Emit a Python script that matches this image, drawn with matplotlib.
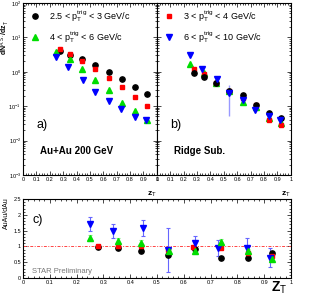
import numpy as np
import matplotlib
matplotlib.use('Agg')
import matplotlib.pyplot as plt
from matplotlib.ticker import MultipleLocator, LogLocator, NullFormatter

plt.rcParams['font.family'] = ['Liberation Sans', 'DejaVu Sans']
plt.rcParams['mathtext.fontset'] = 'custom'
plt.rcParams['mathtext.rm'] = 'Liberation Sans'
plt.rcParams['mathtext.it'] = 'Liberation Sans'
plt.rcParams['mathtext.bf'] = 'Liberation Sans:bold'

# panel a) Au+Au 200 GeV
a_black_x = [0.28, 0.354, 0.44, 0.537, 0.64, 0.74, 0.84, 0.93]
a_black_y = [4.0, 3.1, 2.35, 1.58, 0.99, 0.62, 0.36, 0.226]
a_red_x = [0.28, 0.354, 0.44, 0.537, 0.64, 0.74, 0.84, 0.93]
a_red_y = [4.6, 3.3, 2.0, 1.2, 0.66, 0.36, 0.186, 0.102]
a_green_x = [0.25, 0.354, 0.44, 0.537, 0.64, 0.74, 0.84, 0.93]
a_green_y = [3.77, 2.35, 1.2, 0.58, 0.295, 0.124, 0.072, 0.04]
a_blue_x = [0.25, 0.336, 0.447, 0.54, 0.64, 0.73, 0.836, 0.92]
a_blue_y = [2.69, 1.38, 0.58, 0.26, 0.14, 0.083, 0.049, 0.04]

# panel b) Ridge Sub.
b_black_y = [0.92, 0.71, 0.47, 0.28, 0.21, 0.108, 0.063, 0.046]
b_red_y = [1.2, 0.86, 0.47, 0.28, 0.17, 0.108, 0.04, 0.028]
b_green_y = [1.69, 0.92, 0.47, 0.28, 0.13, 0.095, 0.046, 0.033]
b_blue_y = [3.08, 1.2, 0.61, 0.24, 0.15, 0.077, 0.052, 0.04]
b_blue_lo = [0, 0, 0, 0.19, 0, 0, 0, 0]
b_blue_hi = [0, 0, 0, 0.17, 0, 0, 0, 0]

# panel c) AuAu/dAu
c_black_x = [0.28, 0.353, 0.44, 0.54, 0.64, 0.74, 0.84, 0.93]
c_black_y = [0.98, 0.95, 0.85, 0.72, 0.93, 0.65, 0.65, 0.78]
c_red_x = [0.28, 0.353, 0.44, 0.54, 0.635, 0.74, 0.84, 0.93]
c_red_y = [1.01, 1.0, 1.0, 0.88, 0.98, 0.95, 0.8, 0.7]
c_green_x = [0.25, 0.353, 0.44, 0.545, 0.64, 0.737, 0.84, 0.93]
c_green_y = [1.27, 1.17, 1.1, 0.85, 0.85, 1.14, 0.85, 0.6]
c_green_err = [0.1, 0.1, 0.1, 0.08, 0.08, 0.1, 0.08, 0.08]
c_blue_x = [0.25, 0.336, 0.447, 0.54, 0.642, 0.728, 0.836, 0.92]
c_blue_y = [1.72, 1.49, 1.59, 0.88, 1.1, 0.94, 0.94, 0.65]
c_blue_err = [0.22, 0.22, 0.25, 0.69, 0.24, 0.25, 0.32, 0.3]

labels = ['2.5 < p$_T^{trig}$ < 3 GeV/c', '3 < p$_T^{trig}$ < 4 GeV/c',
          '4 < p$_T^{trig}$ < 6 GeV/c', '6 < p$_T^{trig}$ < 10 GeV/c']
colors = ['black', '#ff0000', '#00dd00', '#0000ff']
ms = 3.8

fig = plt.figure(figsize=(3.15, 2.99), dpi=100)
ax_a = fig.add_axes([0.073, 0.415, 0.425, 0.575])
ax_b = fig.add_axes([0.498, 0.415, 0.425, 0.575])
ax_c = fig.add_axes([0.073, 0.070, 0.851, 0.264])


def style_axis(ax):
    ax.tick_params(which='both', direction='in', top=True, right=True, labelsize=4, pad=1.5)
    ax.tick_params(which='major', length=3, width=0.5)
    ax.tick_params(which='minor', length=1.5, width=0.5)
    for sp in ax.spines.values():
        sp.set_linewidth(0.8)


for ax in (ax_a, ax_b):
    ax.set_yscale('log')
    ax.set_ylim(1e-3, 1e2)
    ax.set_xlim(0, 1)
    ax.xaxis.set_minor_locator(MultipleLocator(0.02))
    ax.yaxis.set_major_locator(LogLocator(base=10, numticks=10))
    ax.yaxis.set_minor_locator(LogLocator(base=10, subs=np.arange(2, 10), numticks=20))
    ax.set_xticks(np.arange(0, 1.01, 0.1))
    ax.set_xticklabels(['0', '0.1', '0.2', '0.3', '0.4', '0.5', '0.6', '0.7', '0.8', '0.9', '1'])
    style_axis(ax)
    ax.text(1.0, -0.085, 'z$_T$', transform=ax.transAxes, ha='right', va='top',
            fontsize=6, fontweight='bold')

ax_b.yaxis.set_minor_formatter(NullFormatter())
ax_b.set_yticklabels([])
ax_a.set_ylabel('dN$^{A.S.}$/dz$_T$', fontsize=5, fontweight='bold', labelpad=1)
ax_a.yaxis.set_label_coords(-0.088, 0.8)

# panel a
ax_a.plot(a_black_x, a_black_y, 'o', color=colors[0], ms=ms, label=labels[0])
ax_a.plot(a_green_x, a_green_y, '^', color=colors[2], ms=ms, label=labels[2])
ax_a.plot(a_blue_x, a_blue_y, 'v', color=colors[3], ms=ms)
ax_a.plot(a_red_x, a_red_y, 's', color=colors[1], ms=ms * 0.9)
ax_a.legend(loc='upper left', frameon=False, fontsize=6.5, handletextpad=0.8,
            borderaxespad=0.2, labelspacing=0.6, handlelength=1.5)
ax_a.text(0.1, 0.27, 'a)', transform=ax_a.transAxes, fontsize=9)
ax_a.text(0.13, 0.12, 'Au+Au 200 GeV', transform=ax_a.transAxes, fontsize=7, fontweight='bold')

# panel b
ax_b.errorbar(a_blue_x, b_blue_y, yerr=[b_blue_lo, b_blue_hi], fmt='v', color=colors[3],
              ecolor='#9999ff', elinewidth=1, ms=ms, capsize=0)
ax_b.plot(a_green_x, b_green_y, '^', color=colors[2], ms=ms)
ax_b.plot(a_red_x, b_red_y, 's', color=colors[1], ms=ms * 0.9, label=labels[1])
ax_b.plot(a_black_x, b_black_y, 'o', color=colors[0], ms=ms)
ax_b.plot([], [], 'v', color=colors[3], ms=ms, label=labels[3])
ax_b.legend(loc='upper left', frameon=False, fontsize=6.5, handletextpad=0.8,
            borderaxespad=0.2, labelspacing=0.6, handlelength=1.5)
ax_b.text(0.1, 0.27, 'b)', transform=ax_b.transAxes, fontsize=9)
ax_b.text(0.13, 0.12, 'Ridge Sub.', transform=ax_b.transAxes, fontsize=7, fontweight='bold')

# panel c
ax_c.set_xlim(0, 1)
ax_c.set_ylim(0, 2.5)
ax_c.axhline(1, color='#ff4444', ls=(0, (3, 1.5, 1, 1.5)), lw=0.7)
ax_c.errorbar(c_blue_x, c_blue_y, yerr=c_blue_err, fmt='v', color=colors[3],
              ecolor='#6666ff', elinewidth=0.8, capsize=1.2, capthick=0.8, ms=ms)
ax_c.errorbar(c_green_x, c_green_y, yerr=c_green_err, fmt='^', color=colors[2],
              ecolor='#88ee88', elinewidth=0.8, capsize=1.2, capthick=0.8, ms=ms)
ax_c.plot(c_black_x, c_black_y, 'o', color=colors[0], ms=ms)
ax_c.plot(c_red_x, c_red_y, 's', color=colors[1], ms=ms * 0.9)
ax_c.xaxis.set_minor_locator(MultipleLocator(0.02))
ax_c.yaxis.set_minor_locator(MultipleLocator(0.1))
ax_c.set_xticks(np.arange(0, 1.01, 0.1))
ax_c.set_xticklabels(['0', '0.1', '0.2', '0.3', '0.4', '0.5', '0.6', '0.7', '0.8', '0.9', '1'])
ax_c.set_yticks([0, 0.5, 1, 1.5, 2, 2.5])
ax_c.set_yticklabels(['0', '0.5', '1', '1.5', '2', '2.5'])
style_axis(ax_c)
ax_c.set_ylabel('AuAu/dAu', fontsize=5, labelpad=2)
ax_c.yaxis.set_label_coords(-0.05, 0.82)
ax_c.text(0.035, 0.7, 'c)', transform=ax_c.transAxes, fontsize=9)
ax_c.text(0.035, 0.06, 'STAR Preliminary', transform=ax_c.transAxes, fontsize=5.5, color='#777777')
ax_c.text(0.985, -0.02, 'Z$_T$', transform=ax_c.transAxes, ha='right', va='top',
          fontsize=10, fontweight='bold')

fig.savefig('out.png', dpi=100)
